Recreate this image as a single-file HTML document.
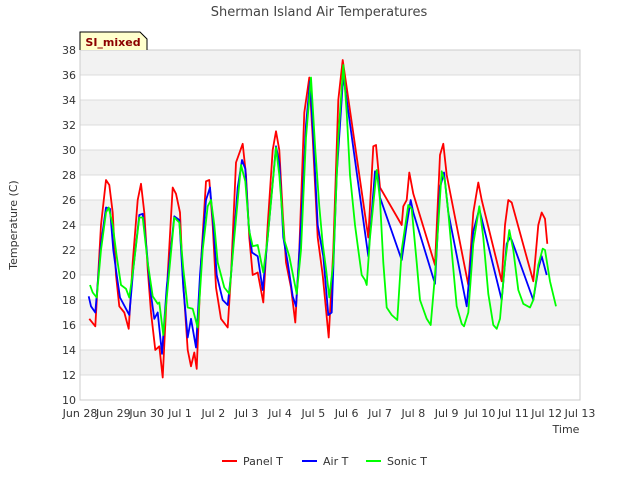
<!DOCTYPE html>
<html><head><meta charset="utf-8"><style>
body{margin:0;background:#fff;font-family:"Liberation Sans","DejaVu Sans",sans-serif}
svg text{font-family:"DejaVu Sans","Liberation Sans",sans-serif}
</style></head><body>
<svg id="c" width="640" height="480">
<text x="319" y="16" text-anchor="middle" font-size="13" fill="#444">Sherman Island Air Temperatures</text>
<g id="grid"></g>
<g id="series"></g>
<path d="M80,50 L80,32 L140,32 L147,39 L147,50" fill="#ffffcc" stroke="#000" stroke-width="1"/>
<text x="113" y="46" text-anchor="middle" font-size="11" font-weight="bold" fill="#8b0000">SI_mixed</text>
<text transform="translate(17,225) rotate(-90)" text-anchor="middle" font-size="11" fill="#333">Temperature (C)</text>
<text x="566" y="433" text-anchor="middle" font-size="11" fill="#333">Time</text>
<g>
<g><line x1="222" y1="461" x2="237" y2="461" stroke="#f00" stroke-width="2"/><text x="243" y="465" font-size="11" fill="#333">Panel T</text></g>
<g><line x1="302" y1="461" x2="317" y2="461" stroke="#00f" stroke-width="2"/><text x="323" y="465" font-size="11" fill="#333">Air T</text></g>
<g><line x1="366" y1="461" x2="381" y2="461" stroke="#0f0" stroke-width="2"/><text x="387" y="465" font-size="11" fill="#333">Sonic T</text></g>
</g>
</svg>
<script>
const yTicks=[10,12,14,16,18,20,22,24,26,28,30,32,34,36,38];
const xTickLabels=["Jun 28","Jun 29","Jun 30","Jul 1","Jul 2","Jul 3","Jul 4","Jul 5","Jul 6","Jul 7","Jul 8","Jul 9","Jul 10","Jul 11","Jul 12","Jul 13"];
const panelT=[[.28,16.5],[.46,15.9],[.63,24],[.78,27.6],[.88,27.2],[.98,25],[1.08,20],[1.18,17.5],[1.33,17],[1.46,15.7],[1.58,21],[1.73,26],[1.83,27.3],[1.93,25],[2.03,20.5],[2.13,17],[2.26,14],[2.38,14.3],[2.48,11.8],[2.63,20],[2.78,27],[2.88,26.5],[3.0,25],[3.08,20],[3.23,14],[3.33,12.7],[3.43,13.8],[3.5,12.5],[3.63,21],[3.78,27.5],[3.88,27.6],[3.98,24],[4.08,19],[4.23,16.5],[4.43,15.8],[4.53,20],[4.68,29],[4.88,30.5],[4.98,28],[5.08,23],[5.18,20],[5.33,20.2],[5.5,17.8],[5.63,24],[5.78,30],[5.88,31.5],[5.98,30],[6.08,25],[6.18,21],[6.33,19],[6.46,16.2],[6.58,22],[6.73,33],[6.88,35.8],[6.98,31],[7.13,23],[7.28,20],[7.46,15],[7.6,22],[7.75,34],[7.88,37.2],[8.0,35],[8.65,23],[8.8,30.3],[8.88,30.4],[9.0,27],[9.65,24],[9.7,25.5],[9.8,26],[9.88,28.2],[10.0,26.5],[10.65,20.8],[10.8,29.6],[10.9,30.5],[11.0,28],[11.65,19.2],[11.8,25],[11.95,27.4],[12.05,26],[12.65,19.5],[12.75,24],[12.85,26],[12.95,25.8],[13.6,19.5],[13.75,24],[13.85,25],[13.95,24.5],[14.02,22.5]];
const airT=[[.26,18.3],[.33,17.5],[.46,17],[.63,22.5],[.78,25.4],[.9,25.3],[1.0,22],[1.1,20],[1.2,18.2],[1.38,17.3],[1.48,16.8],[1.6,20.5],[1.78,24.8],[1.88,24.9],[2.0,22],[2.1,19],[2.23,16.5],[2.33,17],[2.46,13.7],[2.6,19],[2.83,24.7],[2.98,24.4],[3.1,19],[3.23,15],[3.33,16.5],[3.48,14.2],[3.6,20],[3.78,26],[3.9,27],[4.0,24],[4.1,20],[4.28,18],[4.43,17.6],[4.53,20],[4.73,27],[4.86,29.2],[4.96,28.5],[5.06,24],[5.16,21.8],[5.33,21.5],[5.48,18.8],[5.63,23],[5.88,30.3],[5.98,29],[6.1,23],[6.23,21],[6.38,18.3],[6.48,17.5],[6.63,24],[6.78,32],[6.9,35.5],[7.0,31],[7.13,24],[7.3,21.5],[7.45,16.8],[7.55,17],[7.7,28],[7.9,36],[8.0,34],[8.65,21.5],[8.85,28.3],[8.95,28],[9.0,26.2],[9.65,21.2],[9.8,24],[9.92,26],[10.0,25],[10.65,19.3],[10.8,27],[10.92,28.2],[11.05,25],[11.6,17.5],[11.8,23.5],[11.98,25.3],[12.05,24.5],[12.65,18],[12.8,22.5],[12.9,23],[12.95,22.8],[13.6,18],[13.75,20.5],[13.85,21.5],[14.0,20]];
const sonicT=[[.3,19.2],[.38,18.6],[.5,18.2],[.63,22],[.78,25],[.86,25.4],[.98,24],[1.1,21.5],[1.23,19.2],[1.38,18.9],[1.48,18.2],[1.6,20.5],[1.78,24.6],[1.88,24.6],[2.03,21],[2.18,18.3],[2.33,17.7],[2.38,17.8],[2.5,15.2],[2.63,19],[2.83,24.6],[2.98,24.2],[3.1,20.5],[3.23,17.4],[3.38,17.3],[3.53,15.8],[3.68,22],[3.83,25.5],[3.93,26],[4.03,24],[4.13,21],[4.33,19],[4.48,18.5],[4.63,23],[4.83,28.8],[4.96,27.5],[5.08,23.5],[5.18,22.3],[5.33,22.4],[5.5,20.2],[5.63,23],[5.88,30.2],[5.98,28],[6.13,22.8],[6.28,21.5],[6.5,18.5],[6.63,22],[6.78,31],[6.93,35.8],[7.06,30],[7.18,25.5],[7.28,22.5],[7.38,20.5],[7.48,18.2],[7.6,21],[7.75,31],[7.9,36.8],[8.0,33],[8.1,28],[8.25,24],[8.35,22],[8.45,20],[8.55,19.6],[8.6,19.2],[8.7,23],[8.9,28.4],[9.0,26],[9.1,21],[9.2,17.4],[9.35,16.8],[9.52,16.4],[9.65,22],[9.85,25.6],[9.95,25.3],[10.1,21],[10.2,18],[10.4,16.5],[10.52,16],[10.65,20],[10.85,28.3],[10.95,27.5],[11.05,25],[11.2,20.5],[11.3,17.5],[11.45,16.1],[11.52,15.9],[11.65,17],[11.8,22.5],[11.98,25.5],[12.1,23],[12.25,18.5],[12.4,16],[12.5,15.7],[12.6,16.5],[12.75,21],[12.88,23.6],[13.0,22],[13.15,18.8],[13.3,17.7],[13.5,17.4],[13.6,18],[13.75,20.8],[13.88,22.1],[13.95,22],[14.1,19.5],[14.28,17.5]];
const NS="http://www.w3.org/2000/svg";
const L=80,R=580,T=50,B=400,ymin=10,ymax=38,days=15;
const xs=t=>L+t*(R-L)/days;
const ys=v=>B-(v-ymin)*(B-T)/(ymax-ymin);
const g=document.getElementById('grid');
function mk(tag,a,p){const e=document.createElementNS(NS,tag);for(const k in a)e.setAttribute(k,a[k]);p.appendChild(e);return e;}
for(let i=0;i<yTicks.length-1;i++){
  if(i%2===1){const r=mk('rect',{x:L,y:ys(yTicks[i+1]),width:R-L,height:ys(yTicks[i])-ys(yTicks[i+1]),fill:'#f2f2f2'},g);
  
  }
}
yTicks.forEach(v=>{
  const l=mk('line',{x1:L,x2:R,y1:ys(v),y2:ys(v),stroke:'#dcdcdc','stroke-width':1},g);
  
  
  const t=mk('text',{x:L-4,y:ys(v)+4,'text-anchor':'end','font-size':11,fill:'#333'},g);
  t.textContent=v;
  
  
});
const fr=mk('rect',{x:L,y:T,width:R-L,height:B-T,fill:'none',stroke:'#ccc'},g);


xTickLabels.forEach((s,i)=>{
  const t=mk('text',{x:xs(i),y:B+17,'text-anchor':'middle','font-size':11,fill:'#333'},g);
  t.textContent=s;
  
  
});
const sg=document.getElementById('series');
[[panelT,'#f00','panel-t-line'],[airT,'#00f','air-t-line'],[sonicT,'#0f0','sonic-t-line']].forEach(([d,c,n])=>{
  const p=mk('polyline',{points:d.map(q=>xs(q[0]).toFixed(1)+','+ys(q[1]).toFixed(1)).join(' '),fill:'none',stroke:c,'stroke-width':1.8,'stroke-linejoin':'round'},sg);
  
  
});
</script>
</body></html>
